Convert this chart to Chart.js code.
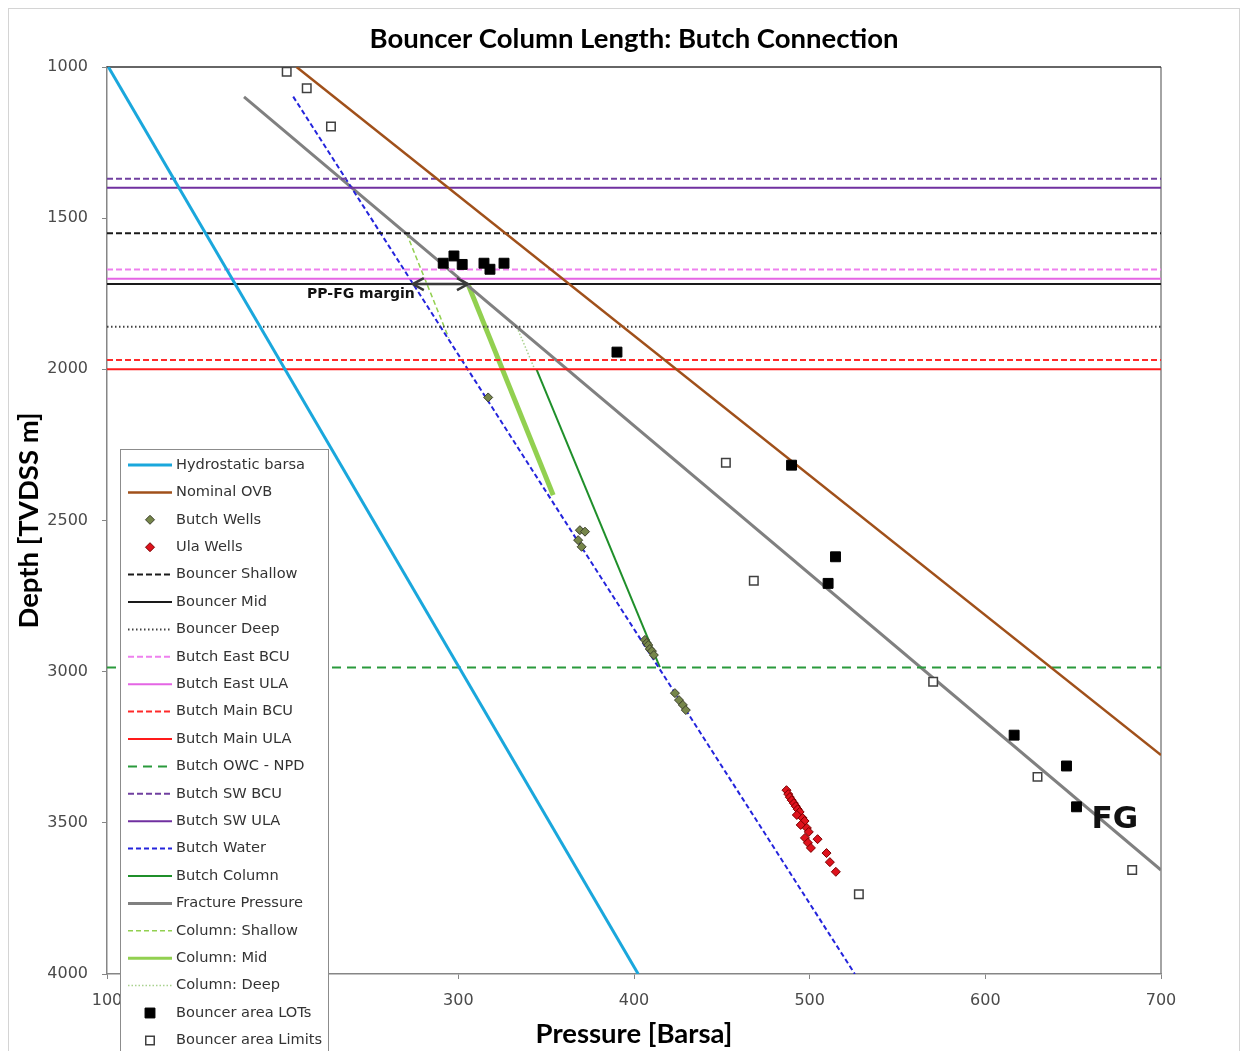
<!DOCTYPE html>
<html>
<head>
<meta charset="utf-8">
<title>Bouncer Column Length: Butch Connection</title>
<script src="https://cdn.jsdelivr.net/npm/chart.js@4.4.1/dist/chart.umd.min.js"></script>
<style>
  html, body { margin: 0; padding: 0; background: #fff; }
  canvas { display: block; }
</style>
</head>
<body>
<canvas id="pressureChart" width="1247" height="1051"></canvas>
<script>
// ================= DATA =================
// pressure in barsa, depth in m TVDSS
const pressureTicks = [100, 200, 300, 400, 500, 600, 700];
const depthTicks = [1000, 1500, 2000, 2500, 3000, 3500, 4000];

const hydroP = [100.8, 402.4];
const hydroD = [1000, 4000];
const ovbP = [207.9, 700.0];
const ovbD = [1000, 3276];
const fracP = [178.0, 700.0];
const fracD = [1099, 3656];
const waterP = [206.0, 525.7];
const waterD = [1098, 4000];
const columnP = [344.5, 414.7];
const columnD = [2000, 2985];
const colShallowP = [270.5, 294.5];
const colShallowD = [1550, 1896];
const colMidP = [305.5, 354.0];
const colMidD = [1718, 2416];
const colDeepP = [333.3, 343.5];
const colDeepD = [1860, 2000];

// horizontal markers
const horizonNames = ["Bouncer Shallow", "Bouncer Mid", "Bouncer Deep", "Butch East BCU", "Butch East ULA",
    "Butch Main BCU", "Butch Main ULA", "Butch OWC - NPD", "Butch SW BCU", "Butch SW ULA"];
const horizonDepths = [1550, 1718, 1859, 1670, 1700, 1969, 2000, 2986, 1370, 1399];

// well data
const butchWellsP = [317.0, 369.2, 372.1, 368.2, 370.2, 406.2, 407.3, 408.1, 409.0, 410.2, 411.3, 423.3, 425.6, 427.8, 429.5];
const butchWellsD = [2093, 2532, 2537, 2565, 2587, 2895, 2905, 2912, 2925, 2932, 2945, 3071, 3094, 3110, 3127];
const ulaWellsP = [486.8, 487.8, 488.7, 489.8, 491.0, 492.1, 493.2, 494.3, 492.7, 496.0, 497.1, 494.9, 498.4,
    499.5, 504.5, 497.3, 499.0, 500.7, 509.6, 511.5, 514.9];
const ulaWellsD = [3392, 3405, 3415, 3425, 3435, 3445, 3455, 3464, 3474, 3484, 3494, 3507, 3517,
    3530, 3554, 3550, 3566, 3583, 3600, 3630, 3662];
const lotP = [291.4, 297.5, 302.2, 314.6, 318.0, 326.0, 390.3, 489.7, 514.7, 510.5, 616.4, 646.2, 651.9];
const lotD = [1649, 1625, 1653, 1649, 1669, 1649, 1943, 2317, 2620, 2708, 3210, 3312, 3447];
const limitP = [202.3, 213.7, 227.5, 452.3, 468.2, 570.3, 629.7, 683.6, 528.0];
const limitD = [1016, 1070, 1197, 2309, 2699, 3033, 3348, 3656, 3736];

// annotations
const marginP = [274.1, 305.5];
const marginDepth = 1718;
const fgLabel = [673.7, 3491];


// ================= DATASETS =================
const xMin = pressureTicks[0];
const xMax = pressureTicks[pressureTicks.length - 1];

function toPoints(P, D) {
    return P.map((p, i) => ({ x: p, y: D[i] }));
}

function lineSet(label, P, D, color, width, dash) {
    return {
        label: label,
        data: toPoints(P, D),
        showLine: true,
        borderColor: color,
        backgroundColor: color,
        borderWidth: width,
        borderDash: dash || [],
        pointRadius: 0,
        pointHoverRadius: 0,
        order: 1
    };
}

function horizon(name, color, width, dash) {
    const d = horizonDepths[horizonNames.indexOf(name)];
    return lineSet(name, [xMin, xMax], [d, d], color, width, dash);
}

function pointSet(label, P, D, style, radius, fill, edge, width) {
    return {
        label: label,
        data: toPoints(P, D),
        showLine: false,
        pointStyle: style,
        pointRadius: radius,
        pointHoverRadius: radius,
        backgroundColor: fill,
        borderColor: edge,
        borderWidth: width,
        order: 0
    };
}

const datasets = [
    lineSet("Hydrostatic barsa", hydroP, hydroD, "#1aa7dc", 3),
    lineSet("Nominal OVB", ovbP, ovbD, "#a0501a", 2.5),
    pointSet("Butch Wells", butchWellsP, butchWellsD, "rectRot", 4.5, "#76864a", "#3b3f2a", 1),
    pointSet("Ula Wells", ulaWellsP, ulaWellsD, "rectRot", 4.5, "#de121c", "#7a0000", 1),
    horizon("Bouncer Shallow", "#1a1a1a", 2, [6, 3]),
    horizon("Bouncer Mid", "#1a1a1a", 2),
    horizon("Bouncer Deep", "#404040", 2, [1.5, 2.5]),
    horizon("Butch East BCU", "#ee80ee", 2, [6, 3]),
    horizon("Butch East ULA", "#e465e4", 2),
    horizon("Butch Main BCU", "#ff2a2a", 2, [6, 3]),
    horizon("Butch Main ULA", "#ff1a1a", 2),
    horizon("Butch OWC - NPD", "#2a9a3c", 2, [9, 6]),
    horizon("Butch SW BCU", "#7040a0", 2, [6, 3]),
    horizon("Butch SW ULA", "#7030a0", 2),
    lineSet("Butch Water", waterP, waterD, "#2424dc", 2, [5, 3]),
    lineSet("Butch Column", columnP, columnD, "#1f8f2a", 2),
    lineSet("Fracture Pressure", fracP, fracD, "#808080", 3),
    lineSet("Column: Shallow", colShallowP, colShallowD, "#92d050", 1.5, [5, 3]),
    lineSet("Column: Mid", colMidP, colMidD, "#92d050", 5),
    lineSet("Column: Deep", colDeepP, colDeepD, "#a9d18e", 1.5, [1.5, 2]),
    pointSet("Bouncer area LOTs", lotP, lotD, "rect", 7, "#000000", "#000000", 1),
    pointSet("Bouncer area Limits", limitP, limitD, "rect", 6, "#ffffff", "#404040", 1.5)
];


// ================= PLUGINS =================
const framePlugin = {
    id: "frame",
    beforeDraw(chart) {
        const ctx = chart.ctx;
        ctx.save();
        ctx.fillStyle = "#ffffff";
        ctx.fillRect(0, 0, chart.width, chart.height);
        ctx.strokeStyle = "#d4d4d4";
        ctx.lineWidth = 1;
        ctx.strokeRect(8.5, 8.5, 1231, 1060);
        ctx.restore();
    },
    beforeDatasetsDraw(chart) {
        const a = chart.chartArea;
        const ctx = chart.ctx;
        ctx.save();
        ctx.lineWidth = 1.5;
        ctx.strokeStyle = "#868686";
        ctx.beginPath();
        ctx.moveTo(a.right, a.top);
        ctx.lineTo(a.right, a.bottom);
        ctx.stroke();
        ctx.strokeStyle = "#333333";
        ctx.beginPath();
        ctx.moveTo(a.left, a.top);
        ctx.lineTo(a.right, a.top);
        ctx.stroke();
        ctx.restore();
    }
};

function chevron(ctx, x, y, dir) {
    ctx.beginPath();
    ctx.moveTo(x - dir * 11, y - 6);
    ctx.lineTo(x, y);
    ctx.lineTo(x - dir * 11, y + 6);
    ctx.stroke();
}

const notesPlugin = {
    id: "notes",
    afterDatasetsDraw(chart) {
        const ctx = chart.ctx;
        const xs = chart.scales.x;
        const ys = chart.scales.y;
        const yA = ys.getPixelForValue(marginDepth);
        const x1 = xs.getPixelForValue(marginP[0]);
        const x2 = xs.getPixelForValue(marginP[1]);

        ctx.save();
        ctx.strokeStyle = "#3a3a3a";
        ctx.lineWidth = 2.5;
        ctx.beginPath();
        ctx.moveTo(x1, yA);
        ctx.lineTo(x2, yA);
        ctx.stroke();
        chevron(ctx, x1, yA, -1);
        chevron(ctx, x2, yA, 1);

        ctx.fillStyle = "#111111";
        ctx.font = "bold 14px 'DejaVu Sans'";
        ctx.textAlign = "right";
        ctx.textBaseline = "middle";
        ctx.fillText("PP-FG margin", x1 + 2, yA + 10);

        ctx.font = "bold 31px 'DejaVu Sans'";
        ctx.textAlign = "center";
        ctx.fillText("FG", xs.getPixelForValue(fgLabel[0]), ys.getPixelForValue(fgLabel[1]));
        ctx.restore();
    }
};

function legendMarker(ctx, ds, cx, cy) {
    ctx.fillStyle = ds.backgroundColor;
    ctx.strokeStyle = ds.borderColor;
    ctx.lineWidth = ds.borderWidth;
    ctx.beginPath();
    if (ds.pointStyle === "rect") {
        const h = Math.SQRT1_2 * ds.pointRadius;
        ctx.rect(cx - h, cy - h, 2 * h, 2 * h);
    } else {
        const r = ds.pointRadius;
        ctx.moveTo(cx - r, cy);
        ctx.lineTo(cx, cy - r);
        ctx.lineTo(cx + r, cy);
        ctx.lineTo(cx, cy + r);
        ctx.closePath();
    }
    ctx.fill();
    ctx.stroke();
}

const legendPlugin = {
    id: "boxLegend",
    afterDraw(chart) {
        const ctx = chart.ctx;
        ctx.save();
        ctx.fillStyle = "#ffffff";
        ctx.fillRect(120, 449, 208, 640);
        ctx.strokeStyle = "#8c8c8c";
        ctx.lineWidth = 1;
        ctx.strokeRect(120.5, 449.5, 208, 640);

        ctx.font = "14.6px 'DejaVu Sans'";
        ctx.textBaseline = "middle";
        ctx.textAlign = "left";

        chart.data.datasets.forEach((ds, i) => {
            const y = 465 + i * 27.4;
            if (ds.showLine) {
                ctx.setLineDash(ds.borderDash);
                ctx.lineWidth = Math.min(ds.borderWidth, 3);
                ctx.strokeStyle = ds.borderColor;
                ctx.beginPath();
                ctx.moveTo(128, y);
                ctx.lineTo(172, y);
                ctx.stroke();
                ctx.setLineDash([]);
            } else {
                legendMarker(ctx, ds, 150, y);
            }
            ctx.fillStyle = "#333333";
            ctx.fillText(ds.label, 176, y);
        });
        ctx.restore();
    }
};


// ================= CHART =================
const titleFont = { family: "Lato", size: 27.5, weight: "bold", lineHeight: 1.2 };
const tickFont = { family: "DejaVu Sans", size: 16 };

new Chart(document.getElementById("pressureChart"), {
    type: "scatter",
    data: { datasets: datasets },
    plugins: [framePlugin, notesPlugin, legendPlugin],
    options: {
        responsive: false,
        animation: false,
        devicePixelRatio: 1,
        layout: { padding: { top: 11, right: 86, bottom: 0, left: 0 } },
        plugins: {
            legend: { display: false },
            tooltip: { enabled: false },
            title: {
                display: true,
                fullSize: false,
                text: "Bouncer Column Length: Butch Connection",
                color: "#000000",
                font: titleFont,
                padding: { top: 12, bottom: 11 }
            }
        },
        scales: {
            x: {
                type: "linear",
                position: "bottom",
                min: xMin,
                max: xMax,
                afterFit(scale) { scale.height = 77; },
                ticks: {
                    stepSize: pressureTicks[1] - pressureTicks[0],
                    color: "#4a4a4a",
                    font: tickFont,
                    padding: 12,
                    maxRotation: 0,
                    callback: v => String(v)
                },
                grid: { drawOnChartArea: false, drawTicks: true, tickLength: 5, color: "#868686" },
                border: { display: true, color: "#868686", width: 1.5 },
                title: {
                    display: true,
                    text: "Pressure [Barsa]",
                    color: "#000000",
                    font: titleFont,
                    padding: { top: 0, bottom: 0 }
                }
            },
            y: {
                type: "linear",
                reverse: true,
                min: depthTicks[0],
                max: depthTicks[depthTicks.length - 1],
                afterFit(scale) { scale.width = 107; },
                ticks: {
                    stepSize: depthTicks[1] - depthTicks[0],
                    color: "#4a4a4a",
                    font: tickFont,
                    padding: 14,
                    callback: v => String(v)
                },
                grid: { drawOnChartArea: false, drawTicks: true, tickLength: 5, color: "#868686" },
                border: { display: true, color: "#868686", width: 1.5 },
                title: {
                    display: true,
                    text: "Depth [TVDSS m]",
                    color: "#000000",
                    font: titleFont,
                    padding: { top: 13, bottom: 0 }
                }
            }
        }
    }
});
</script>
</body>
</html>
